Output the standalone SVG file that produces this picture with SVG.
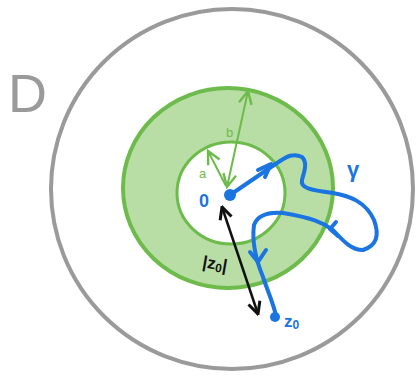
<svg xmlns="http://www.w3.org/2000/svg" width="417" height="378" viewBox="0 0 417 378">
<defs>
<style>
.gray{fill:none;stroke:#9a9a9a;stroke-width:4}
.ring{fill:#b8dea6;stroke:#6dbb4b;stroke-width:4}
.inner{fill:#ffffff;stroke:#6dbb4b;stroke-width:3}
.garrow{fill:none;stroke:#6dbb4b;stroke-width:2}
.blue{fill:none;stroke:#1a74e2;stroke-width:4;stroke-linecap:round;stroke-linejoin:round}
.blk{fill:none;stroke:#111;stroke-width:2.5}
.lbl{font-family:"Liberation Sans",Arial,sans-serif}
</style>
<marker id="ga" viewBox="0 0 10 10" refX="9" refY="5" markerWidth="8" markerHeight="8" orient="auto-start-reverse"><path d="M1,1 L9,5 L1,9" fill="none" stroke="#6dbb4b" stroke-width="1.5"/></marker>
<marker id="ka" viewBox="0 0 10 10" refX="9" refY="5" markerWidth="6" markerHeight="6" orient="auto-start-reverse"><path d="M1,1 L9,5 L1,9" fill="none" stroke="#111" stroke-width="2"/></marker>
</defs>
<g id="domain">
<ellipse class="gray" cx="232" cy="189" rx="181" ry="180"/>
<text class="lbl" x="8" y="112" font-size="54" fill="#9a9a9a">D</text>
</g>
<g id="annulus">
<ellipse class="ring" cx="228" cy="188" rx="105" ry="100"/>
<ellipse class="inner" cx="231" cy="193" rx="54" ry="51"/>
</g>
<g id="connectors">
<line class="garrow" x1="227" y1="187" x2="248" y2="91" marker-start="url(#ga)" marker-end="url(#ga)"/>
<line class="garrow" x1="226" y1="186" x2="208" y2="151" marker-end="url(#ga)"/>
<line class="blk" x1="222" y1="207" x2="258" y2="314" marker-start="url(#ka)" marker-end="url(#ka)"/>
<path class="blue" d="M230,195 L277,163 C285,158 292,152 302,157 C308,163 304,172 302,180 C300,188 310,190 333,193 C350,196 366,202 374,220 C380,236 376,246 363,250 C352,250 345,243 333,230 C322,222 312,218 283,213 C270,212 258,214 254,225 C252,240 256,260 263,277 C268,292 274,305 276,316"/>
<path class="blue" d="M258,170 L271,164 L265,177" stroke-width="3"/>
<path class="blue" d="M336,222 L330,229 L338,236" stroke-width="3"/>
<path class="blue" d="M250,252 L258,262 L266,250" stroke-width="3"/>
</g>
<g id="origin">
<circle cx="230" cy="195" r="6" fill="#1a74e2"/>
<text class="lbl" x="199" y="207" font-size="18" font-weight="bold" fill="#1a74e2">0</text>
</g>
<g id="z0">
<circle cx="275" cy="317" r="5" fill="#1a74e2"/>
<text class="lbl" x="284" y="327" font-size="17" font-weight="bold" fill="#1a74e2">z<tspan font-size="12" dy="2">0</tspan></text>
</g>
<g id="labels">
<text class="lbl" x="226" y="137" font-size="13" fill="#6dbb4b">b</text>
<text class="lbl" x="199" y="178" font-size="13" fill="#6dbb4b">a</text>
<text class="lbl" x="347" y="177" font-size="22" font-weight="bold" fill="#1a74e2">γ</text>
<text class="lbl" x="203" y="270" font-size="17" font-weight="bold" fill="#111" transform="rotate(10 218 262)">|z<tspan font-size="12" dy="2">0</tspan><tspan dy="-2">|</tspan></text>
</g>
</svg>
